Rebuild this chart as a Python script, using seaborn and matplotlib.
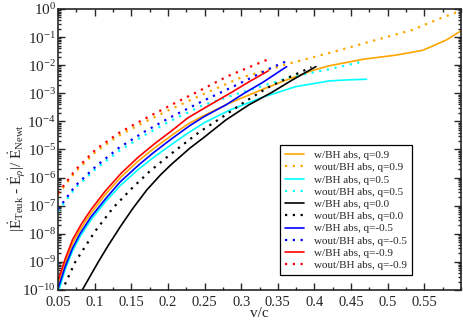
import numpy as np
import pandas as pd
import matplotlib
matplotlib.use("Agg")
import matplotlib.pyplot as plt
import matplotlib.ticker as mticker
import seaborn as sns

# ---- data (x = v/c, y = |E_Teuk - E_rho| / E_Newt) ----
# q = 0.9
x_q09_w = [0.05, 0.06, 0.07, 0.082, 0.095, 0.114, 0.136, 0.159, 0.182, 0.205, 0.227,
           0.25, 0.284, 0.33, 0.362, 0.40, 0.42, 0.466, 0.512, 0.548, 0.58, 0.6]
y_q09_w = [1.58e-10, 1.0e-9, 4.68e-9, 1.66e-8, 5.37e-8, 2.4e-7, 1.05e-6, 3.8e-6, 1.15e-5, 3.16e-5, 7.94e-5,
           1.66e-4, 4.47e-4, 1.41e-3, 3.0e-3, 6.8e-3, 9.5e-3, 1.62e-2, 2.3e-2, 3.4e-2, 7.9e-2, 0.166]
x_q09_wo = [0.05, 0.0736, 0.1014, 0.1332, 0.1673, 0.2023, 0.249, 0.297, 0.364, 0.421, 0.475, 0.533, 0.57, 0.6]
y_q09_wo = [2.5e-7, 1.58e-6, 8.3e-6, 3.16e-5, 9.3e-5, 2.6e-4, 9.5e-4, 3.4e-3, 1.12e-2, 2.75e-2, 6.8e-2, 0.178, 0.447, 0.87]

# q = 0.5
x_q05_w = [0.05, 0.06, 0.07, 0.08, 0.095, 0.115, 0.135, 0.16, 0.182, 0.205, 0.227,
           0.25, 0.284, 0.329, 0.375, 0.42, 0.445, 0.471]
y_q05_w = [7.6e-11, 5.6e-10, 2.5e-9, 7.9e-9, 3.16e-8, 1.41e-7, 5.2e-7, 2.0e-6, 5.6e-6, 1.51e-5, 3.8e-5,
           9.1e-5, 2.5e-4, 7.2e-4, 1.74e-3, 2.75e-3, 3.0e-3, 3.16e-3]
x_q05_wo = [0.05, 0.0736, 0.1023, 0.1332, 0.1673, 0.2023, 0.2455, 0.2758, 0.3032, 0.368, 0.42, 0.4676]
y_q05_wo = [6.3e-8, 4.3e-7, 2.14e-6, 8.9e-6, 3.16e-5, 1.0e-4, 3.55e-4, 6.6e-4, 1.12e-3, 3.8e-3, 7.2e-3, 1.38e-2]

# q = 0.0
x_q00_w = [0.082, 0.095, 0.105, 0.119, 0.135, 0.152, 0.171, 0.19, 0.205, 0.23, 0.25,
           0.279, 0.31, 0.341, 0.37, 0.402]
y_q00_w = [8.9e-11, 3.5e-10, 1.0e-9, 4.0e-9, 1.78e-8, 7.9e-8, 3.6e-7, 1.26e-6, 3.0e-6, 1.12e-5, 2.8e-5,
           1.12e-4, 3.8e-4, 1.05e-3, 3.0e-3, 8.9e-3]
x_q00_wo = [0.055, 0.0736, 0.1, 0.125, 0.151, 0.175, 0.202, 0.243, 0.274, 0.305, 0.336, 0.368, 0.396]
y_q00_wo = [8.9e-11, 1.0e-9, 1.17e-8, 8.3e-8, 4.2e-7, 1.66e-6, 6.3e-6, 4.2e-5, 1.41e-4, 5.0e-4, 1.58e-3, 4.0e-3, 8.5e-3]

# q = -0.5
x_qm05_w = [0.05, 0.06, 0.07, 0.08, 0.095, 0.115, 0.135, 0.16, 0.18, 0.205, 0.23,
            0.25, 0.28, 0.304, 0.33, 0.362]
y_qm05_w = [1.1e-10, 7.1e-10, 3.16e-9, 1.0e-8, 3.98e-8, 1.78e-7, 7.1e-7, 2.8e-6, 7.6e-6, 2.4e-5, 7.1e-5,
            1.51e-4, 3.98e-4, 1.0e-3, 2.5e-3, 8.9e-3]
x_qm05_wo = [0.05, 0.0736, 0.1023, 0.1332, 0.1673, 0.2023, 0.2455, 0.29, 0.343, 0.361]
y_qm05_wo = [7.4e-8, 5.1e-7, 2.6e-6, 1.15e-5, 4.2e-5, 1.35e-4, 5.0e-4, 1.78e-3, 8.5e-3, 1.35e-2]

# q = -0.9
x_qm09_w = [0.05, 0.06, 0.07, 0.082, 0.095, 0.114, 0.136, 0.159, 0.182, 0.205, 0.227,
            0.25, 0.286, 0.31, 0.337]
y_qm09_w = [2.14e-10, 1.32e-9, 6.3e-9, 2.24e-8, 7.2e-8, 3.2e-7, 1.41e-6, 5.2e-6, 1.62e-5, 4.6e-5, 1.32e-4,
            3.0e-4, 1.05e-3, 2.5e-3, 6.3e-3]
x_qm09_wo = [0.05, 0.0736, 0.1014, 0.1332, 0.1673, 0.2023, 0.2468, 0.281, 0.31, 0.337]
y_qm09_wo = [2.8e-7, 1.86e-6, 1.0e-5, 3.9e-5, 1.2e-4, 3.6e-4, 1.38e-3, 4.0e-3, 8.3e-3, 1.62e-2]

q_labels = ["0.9", "0.5", "0.0", "-0.5", "-0.9"]
q_colors = ["#ffa500", "#00ffff", "#000000", "#0000ff", "#ff0000"]
xtick_vals = [0.05, 0.1, 0.15, 0.2, 0.25, 0.3, 0.35, 0.4, 0.45, 0.5, 0.55]

series = [
    (x_q09_w, y_q09_w, x_q09_wo, y_q09_wo),
    (x_q05_w, y_q05_w, x_q05_wo, y_q05_wo),
    (x_q00_w, y_q00_w, x_q00_wo, y_q00_wo),
    (x_qm05_w, y_qm05_w, x_qm05_wo, y_qm05_wo),
    (x_qm09_w, y_qm09_w, x_qm09_wo, y_qm09_wo),
]

# ---- style ----
sns.set_style("ticks")
plt.rcParams["font.family"] = ["Liberation Serif", "DejaVu Serif"]
plt.rcParams["mathtext.fontset"] = "custom"
plt.rcParams["mathtext.rm"] = "Liberation Serif"
plt.rcParams["mathtext.it"] = "Liberation Serif:italic"
plt.rcParams["mathtext.bf"] = "Liberation Serif:bold"

fig = plt.figure(figsize=(4.63, 3.2), dpi=100)
ax = fig.add_axes([0.1253, 0.0938, 0.8704, 0.8781])

dotted = (0, (1, 2.5))
for (xw, yw, xo, yo), q, col in zip(series, q_labels, q_colors):
    sns.lineplot(x=xw, y=yw, ax=ax, color=col, linewidth=1.2, sort=False,
                 label=f"w/BH abs, q={q}")
    sns.lineplot(x=xo, y=yo, ax=ax, color=col, linewidth=1.6, sort=False,
                 linestyle=dotted, label=f"wout/BH abs, q={q}")

ax.set_yscale("log")
ax.set_xlim(0.05, 0.6)
ax.set_ylim(1e-10, 1)

ax.yaxis.set_major_locator(mticker.LogLocator(base=10, numticks=20))
ax.yaxis.set_minor_locator(mticker.LogLocator(base=10, subs=np.arange(2, 10), numticks=100))
ax.yaxis.set_minor_formatter(mticker.NullFormatter())
ax.xaxis.set_major_locator(mticker.FixedLocator(xtick_vals))
ax.xaxis.set_major_formatter(mticker.FuncFormatter(lambda v, p: f"{v:g}"))
ax.xaxis.set_minor_locator(mticker.MultipleLocator(0.025))

ax.tick_params(which="both", direction="in", top=True, right=True, width=1.0)
ax.tick_params(which="major", length=5)
ax.tick_params(axis="x", which="major", labelsize=10.5, pad=4)
ax.tick_params(axis="y", which="major", labelsize=11, pad=1.5)
ax.tick_params(which="minor", length=2.5)
for s in ax.spines.values():
    s.set_linewidth(1.2)

ax.set_xlabel("v/c", fontsize=11, labelpad=-1)
ax.set_ylabel(r"$|\dot{\rm E}_{\rm Teuk}$ - $\dot{\rm E}_{\rho}|/\ \dot{\rm E}_{\rm Newt}$",
              fontsize=11)
ax.yaxis.set_label_coords(-0.075, 0.40)

leg = ax.legend(loc="lower right", bbox_to_anchor=(0.878, 0.053), fontsize=8,
                frameon=True, fancybox=False, framealpha=1, edgecolor="black",
                borderaxespad=0, handlelength=1.7, handletextpad=0.9,
                labelspacing=0.22, borderpad=0.45)
leg.get_frame().set_linewidth(0.9)

fig.savefig("out.png", dpi=100)
